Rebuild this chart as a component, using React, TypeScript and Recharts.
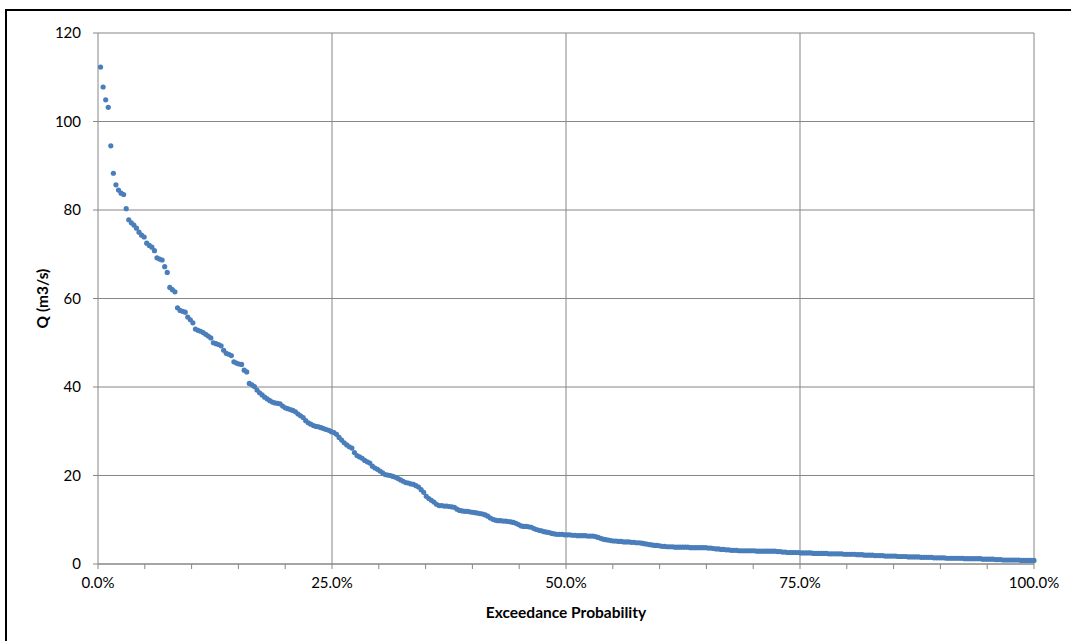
import React from "react";
import {
  CartesianGrid,
  ReferenceLine,
  Scatter,
  ScatterChart,
  XAxis,
  YAxis,
} from "recharts";

// daily flows sorted high to low (m3/s)
const flow = [
  112.3, 107.8, 104.9, 103.2, 94.5, 88.3, 85.7, 84.5, 83.8, 83.5,
  80.3, 77.8, 77.1, 76.6, 75.9, 75.0, 74.3, 73.9, 72.5, 72.0,
  71.6, 70.8, 69.2, 68.9, 68.7, 67.2, 65.9, 62.5, 62.0, 61.5,
  57.9, 57.3, 57.1, 56.9, 55.8, 55.2, 54.5, 53.1, 52.8, 52.6,
  52.3, 51.9, 51.5, 51.1, 50.0, 49.8, 49.6, 49.3, 48.3, 47.6,
  47.4, 47.1, 45.7, 45.4, 45.2, 45.1, 43.8, 43.4, 40.8, 40.5,
  40.1, 39.3, 38.7, 38.2, 37.7, 37.3, 36.9, 36.6, 36.4, 36.3,
  36.2, 35.7, 35.3, 35.1, 34.9, 34.7, 34.4, 33.9, 33.5, 33.1,
  32.4, 31.9, 31.6, 31.3, 31.1, 31.0, 30.8, 30.6, 30.4, 30.2,
  29.9, 29.7, 29.3, 28.6, 28.0, 27.4, 26.9, 26.5, 26.2, 25.2,
  24.5, 24.2, 23.9, 23.4, 23.1, 22.8, 22.1, 21.7, 21.4, 21.0,
  20.6, 20.2, 20.1, 20.0, 19.8, 19.6, 19.3, 19.0, 18.7, 18.4,
  18.3, 18.1, 18.0, 17.7, 17.4, 16.8, 16.2, 15.3, 14.8, 14.4,
  14.0, 13.5, 13.2, 13.2, 13.1, 13.1, 13.0, 12.9, 12.8, 12.4,
  12.1, 12.0, 11.9, 11.9, 11.8, 11.7, 11.6, 11.5, 11.4, 11.3,
  11.1, 10.8, 10.4, 10.1, 9.9, 9.8, 9.8, 9.7, 9.7, 9.6,
  9.5, 9.4, 9.2, 8.9, 8.6, 8.5, 8.5, 8.4, 8.3, 8.0,
  7.8, 7.6, 7.5, 7.3, 7.2, 7.1, 6.9, 6.8, 6.7, 6.7,
  6.7, 6.6, 6.6, 6.6, 6.5, 6.5, 6.4, 6.4, 6.4, 6.4,
  6.3, 6.3, 6.3, 6.2, 6.0, 5.8, 5.6, 5.5, 5.4, 5.3,
  5.2, 5.2, 5.1, 5.1, 5.0, 5.0, 5.0, 4.9, 4.9, 4.8,
  4.8, 4.7, 4.6, 4.5, 4.4, 4.3, 4.2, 4.2, 4.1, 4.0,
  4.0, 3.9, 3.9, 3.9, 3.8, 3.8, 3.8, 3.8, 3.8, 3.8,
  3.7, 3.7, 3.7, 3.7, 3.7, 3.7, 3.7, 3.6, 3.6, 3.5,
  3.4, 3.4, 3.3, 3.3, 3.2, 3.2, 3.1, 3.1, 3.1, 3.0,
  3.0, 3.0, 3.0, 3.0, 3.0, 3.0, 2.9, 2.9, 2.9, 2.9,
  2.9, 2.9, 2.9, 2.9, 2.8, 2.8, 2.7, 2.7, 2.6, 2.6,
  2.6, 2.6, 2.6, 2.5, 2.5, 2.5, 2.5, 2.5, 2.4, 2.4,
  2.4, 2.4, 2.4, 2.4, 2.3, 2.3, 2.3, 2.3, 2.3, 2.3,
  2.2, 2.2, 2.2, 2.2, 2.2, 2.1, 2.1, 2.1, 2.0, 2.0,
  2.0, 2.0, 1.9, 1.9, 1.9, 1.9, 1.8, 1.8, 1.8, 1.8,
  1.8, 1.7, 1.7, 1.7, 1.7, 1.6, 1.6, 1.6, 1.6, 1.6,
  1.5, 1.5, 1.5, 1.5, 1.5, 1.4, 1.4, 1.4, 1.4, 1.4,
  1.3, 1.3, 1.3, 1.3, 1.3, 1.3, 1.3, 1.2, 1.2, 1.2,
  1.2, 1.2, 1.2, 1.2, 1.1, 1.1, 1.1, 1.1, 1.1, 1.0,
  1.0, 1.0, 0.9, 0.9, 0.9, 0.9, 0.9, 0.9, 0.9, 0.8,
  0.8, 0.8, 0.8, 0.8, 0.8,
];

const yTicks = [0, 20, 40, 60, 80, 100, 120];
const xTicks = [
  0, 0.05, 0.1, 0.15, 0.2, 0.25, 0.3, 0.35, 0.4, 0.45, 0.5,
  0.55, 0.6, 0.65, 0.7, 0.75, 0.8, 0.85, 0.9, 0.95, 1,
];
const xLabelled = [0, 0.25, 0.5, 0.75, 1];
const xGrid = [0.25, 0.5, 0.75, 1];

// exceedance probability = rank / n
const data = flow.map((q, i) => ({ p: (i + 1) / flow.length, q }));

const FONT = "Lato, 'Open Sans', sans-serif";
const GRID = "#868686";
const DOT = "#4A7EBB";

const Dot = (props: any) => <circle cx={props.cx} cy={props.cy} r={2.6} fill={DOT} />;

export default function App() {
  return (
    <div style={{ position: "absolute", left: 0, top: 0, width: 1071, height: 641, overflow: "hidden", background: "#fff" }}>
      <div
        style={{
          position: "absolute",
          left: 5,
          top: 9,
          width: 1200,
          height: 800,
          border: "2px solid #000",
        }}
      />
      <div style={{ position: "absolute", left: 0, top: 0 }}>
        <ScatterChart width={1071} height={641} margin={{ top: 33, right: 37, bottom: 47, left: 50 }}>
          <CartesianGrid vertical={false} stroke={GRID} strokeWidth={1} />
          {xGrid.map((x) => (
            <ReferenceLine key={x} x={x} stroke={GRID} strokeWidth={1} />
          ))}
          <XAxis
            type="number"
            dataKey="p"
            domain={[0, 1]}
            ticks={xTicks}
            interval={0}
            height={30}
            axisLine={{ stroke: GRID }}
            tickLine={{ stroke: GRID }}
            tickSize={5}
            tickMargin={8}
            tick={{ fontSize: 15, fill: "#000", fontFamily: FONT }}
            tickFormatter={(v: number) =>
              xLabelled.some((t) => Math.abs(t - v) < 1e-9) ? `${(v * 100).toFixed(1)}%` : ""
            }
            label={{
              value: "Exceedance Probability",
              position: "insideBottom",
              offset: -24,
              style: { fontSize: 15.5, fontWeight: 700, fill: "#000", fontFamily: FONT },
            }}
          />
          <YAxis
            type="number"
            dataKey="q"
            domain={[0, 120]}
            ticks={yTicks}
            interval={0}
            width={48}
            axisLine={{ stroke: GRID }}
            tickLine={{ stroke: GRID }}
            tickSize={5}
            tickMargin={12}
            tick={{ fontSize: 15, fill: "#000", fontFamily: FONT }}
            label={{
              value: "Q (m3/s)",
              angle: -90,
              position: "insideLeft",
              offset: -8,
              style: { fontSize: 15.5, fontWeight: 700, fill: "#000", fontFamily: FONT, textAnchor: "middle" },
            }}
          />
          <Scatter data={data} shape={Dot} isAnimationActive={false} />
        </ScatterChart>
      </div>
    </div>
  );
}
